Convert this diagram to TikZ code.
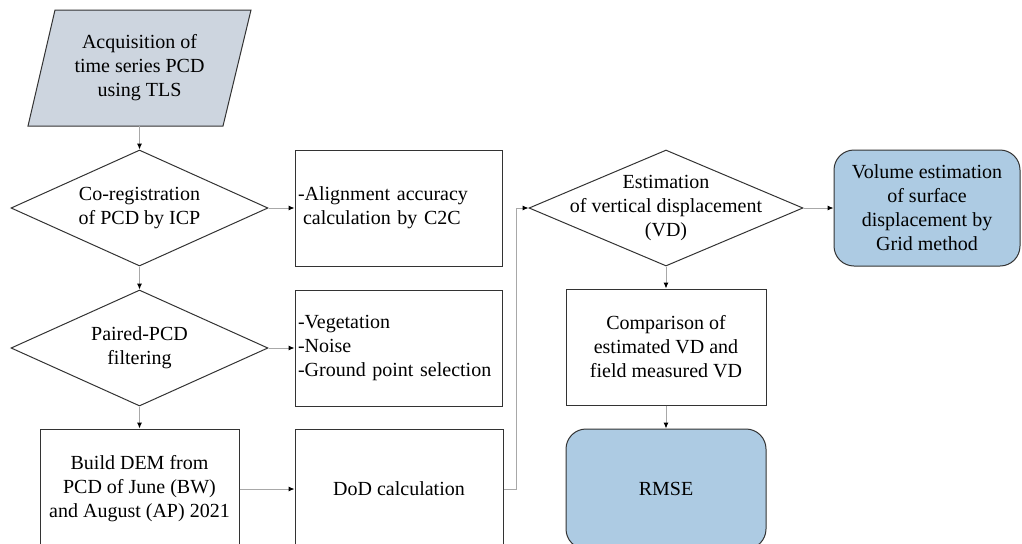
\documentclass[tikz,border=0pt]{standalone}
\usepackage{fontspec}
\setmainfont{Liberation Serif}
\usepackage{tikz}
\usetikzlibrary{shapes.geometric, arrows.meta}
\definecolor{datafill}{HTML}{CDD5DF}
\definecolor{endfill}{HTML}{ADCBE3}
\definecolor{linkgray}{HTML}{A8A8A8}

\begin{document}
\begin{tikzpicture}[>={Latex[length=3pt, width=2.6pt, color=black]},
                    x=0.5pt, y=-0.5pt,
                    font=\fontsize{10}{12}\selectfont]
\tikzstyle{box}=[shape=rectangle, draw=black!80, line width=0.5pt,
                    inner sep=1.5pt, minimum width=103.5pt, minimum height=58pt,
                    align=center]
\tikzstyle{note}=[box, align=left, text width=100.5pt]
\tikzstyle{decision}=[shape=diamond, draw=black!80, line width=0.5pt,
                    inner sep=0pt, minimum width=128.5pt, minimum height=58pt]
\tikzstyle{dataframe}=[draw=black!80, line width=0.5pt, fill=datafill]
\tikzstyle{data}=[shape=rectangle, inner sep=0pt, minimum height=58pt,
                    align=center]
\tikzstyle{terminal}=[box, rounded corners=10pt, fill=endfill]
\tikzstyle{link}=[->, draw=linkgray, line width=0.5pt]
  \useasboundingbox (0,0) rectangle (1022,543);
  \clip (0,0) rectangle (1022,543);
  % left column
  \coordinate (acquisition_c) at (139.5,68);
  \draw[dataframe] ([shift={(-84.5,-58)}]acquisition_c)
                -- ([shift={(111.5,-58)}]acquisition_c)
                -- ([shift={(83.5,58)}]acquisition_c)
                -- ([shift={(-111.5,58)}]acquisition_c) -- cycle;
  \node[data] (acquisition) at (acquisition_c)
                            {Acquisition of\\time series PCD\\using TLS};
  \node[decision, label={[align=center]center:Co-registration\\of PCD by ICP}]
                            (coreg) at (139.5,208) {};
  \node[decision, label={[align=center]center:Paired-PCD\\filtering}]
                            (filtering) at (139.5,348) {};
  \node[box, minimum width=99.5pt, minimum height=60pt] (build) at (139.5,489)
                            {Build DEM from\\PCD of June (BW)\\and August (AP) 2021};
  % middle column
  \node[note] (alignment) at (398.5,208)
                            {-Alignment accuracy\\\hspace*{0.25em}calculation by C2C};
  \node[note] (removal) at (398.5,348)
                            {-Vegetation\\-Noise\\-Ground point selection};
  \node[box, minimum width=104pt, minimum height=60pt] (dod) at (399,489)
                            {DoD calculation};
  % right column
  \node[decision, minimum width=137pt,
        label={[align=center]center:Estimation\\of vertical displacement\\(VD)}]
                            (estimation) at (666,208) {};
  \node[terminal, minimum width=93pt] (volume) at (927,208)
                            {Volume estimation\\of surface\\displacement by\\Grid method};
  \node[box, minimum width=100pt] (comparison) at (666,347)
                            {Comparison of\\estimated VD and\\field measured VD};
  \node[terminal, minimum width=100pt, minimum height=60pt] (rmse) at (666,489)
                            {RMSE};
  \coordinate (dod_turn) at (516,489);
  \path (acquisition) edge[link] (coreg);
  \path (coreg)       edge[link] (filtering);
  \path (filtering)   edge[link] (build);
  \path (coreg)       edge[link] (alignment);
  \path (filtering)   edge[link] (removal);
  \path (build)       edge[link] (dod);
  \draw[link] (dod.east) -- (dod_turn) |- (estimation.west);
  \path (estimation)  edge[link] (volume);
  \path (estimation)  edge[link] (comparison);
  \path (comparison)  edge[link] (rmse);
\end{tikzpicture}
\end{document}
